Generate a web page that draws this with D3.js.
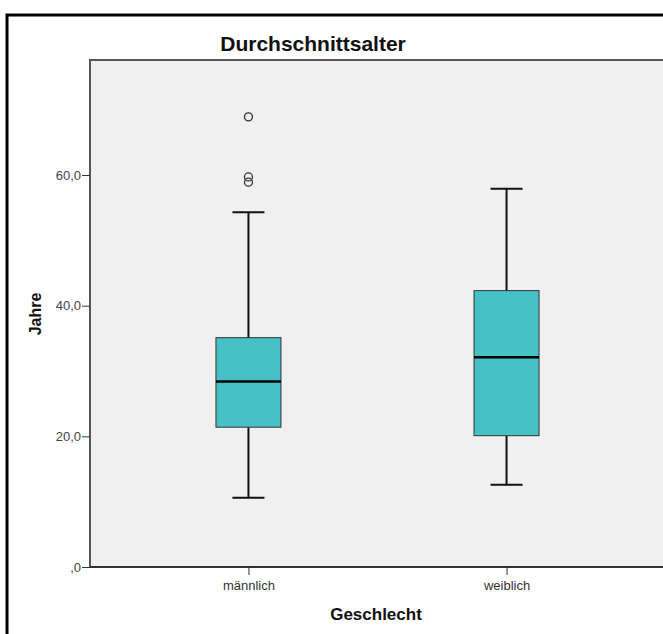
<!DOCTYPE html>
<html><head><meta charset="utf-8">
<script src="https://cdn.jsdelivr.net/npm/d3@7"></script>
<style>body{margin:0;background:#fff}svg{display:block}</style>
</head><body>
<script>
const categories = ["männlich", "weiblich"];
const whiskerLow = [10.6, 12.6];
const q1 = [21.4, 20.1];
const median = [28.4, 32.1];
const q3 = [35.1, 42.3];
const whiskerHigh = [54.3, 57.9];
const outliers = [[68.9, 59.7, 58.9], []];
const yTicks = [0, 20, 40, 60];

(function(){
const W = 663, H = 634;
const FONT = "Arial, Liberation Sans, sans-serif";
const svg = d3.select("body").append("svg").attr("width", W).attr("height", H);

// outer frame
svg.append("path").attr("d", `M7,${H+5}V15H${W+5}`).attr("fill","none").attr("stroke","#000").attr("stroke-width",3);

const pL = 90, pR = 665, pT = 60, pB = 567;
const y = d3.scaleLinear().domain([0, 77.6]).range([pB, pT]);
const x = d3.scalePoint().domain(categories).range([pL, pR]).padding(0.614);

svg.append("rect").attr("x", pL).attr("y", pT).attr("width", pR-pL).attr("height", pB-pT).attr("fill","#f0f0f0");
svg.append("path").attr("d", `M${pL},${pB}V${pT}H${pR}`).attr("fill","none").attr("stroke","#555").attr("stroke-width",2);

const yAxis = svg.append("g").attr("transform",`translate(${pL},0)`)
  .call(d3.axisLeft(y).tickValues(yTicks).tickSize(8).tickPadding(1)
    .tickFormat(d => d === 0 ? ",0" : d3.format(".1f")(d).replace(".", ",")));
yAxis.select(".domain").remove();
yAxis.selectAll("line").attr("stroke","#333");
yAxis.selectAll("text").attr("font-family",FONT).attr("font-size",13).attr("fill","#444");

const xAxis = svg.append("g").attr("transform",`translate(0,${pB})`)
  .call(d3.axisBottom(x).tickSize(8).tickPadding(6));
xAxis.select(".domain").attr("stroke","#333").attr("stroke-width",2).attr("d",`M${pL},0H${pR}`);
xAxis.selectAll("line").attr("stroke","#333");
xAxis.selectAll("text").attr("font-family",FONT).attr("font-size",13).attr("fill","#333");

const bw = 65, cw = 32;
const g = svg.append("g");
categories.forEach((c, i) => {
  const cx = x(c);
  g.append("line").attr("x1",cx).attr("x2",cx).attr("y1",y(whiskerHigh[i])).attr("y2",y(q3[i])).attr("stroke","#111").attr("stroke-width",2);
  g.append("line").attr("x1",cx).attr("x2",cx).attr("y1",y(q1[i])).attr("y2",y(whiskerLow[i])).attr("stroke","#111").attr("stroke-width",2);
  g.append("line").attr("x1",cx-cw/2).attr("x2",cx+cw/2).attr("y1",y(whiskerHigh[i])).attr("y2",y(whiskerHigh[i])).attr("stroke","#111").attr("stroke-width",2);
  g.append("line").attr("x1",cx-cw/2).attr("x2",cx+cw/2).attr("y1",y(whiskerLow[i])).attr("y2",y(whiskerLow[i])).attr("stroke","#111").attr("stroke-width",2);
  g.append("rect").attr("x",cx-bw/2).attr("y",y(q3[i])).attr("width",bw).attr("height",y(q1[i])-y(q3[i]))
    .attr("fill","#47c1c6").attr("stroke","#333").attr("stroke-width",1);
  g.append("line").attr("x1",cx-bw/2).attr("x2",cx+bw/2).attr("y1",y(median[i])).attr("y2",y(median[i])).attr("stroke","#000").attr("stroke-width",2.5);
  outliers[i].forEach(v => {
    g.append("circle").attr("cx",cx).attr("cy",y(v)).attr("r",4).attr("fill","none").attr("stroke","#333").attr("stroke-width",1.3);
  });
});

svg.append("text").attr("x",313).attr("y",51).attr("text-anchor","middle")
  .attr("font-family",FONT).attr("font-weight","bold").attr("font-size",21).attr("fill","#111")
  .text("Durchschnittsalter");
svg.append("text").attr("x",376).attr("y",620).attr("text-anchor","middle")
  .attr("font-family",FONT).attr("font-weight","bold").attr("font-size",17).attr("fill","#111")
  .text("Geschlecht");
svg.append("text").attr("transform",`translate(41,314) rotate(-90)`).attr("text-anchor","middle")
  .attr("font-family",FONT).attr("font-weight","bold").attr("font-size",16).attr("fill","#111")
  .text("Jahre");
})();
</script>
</body></html>
